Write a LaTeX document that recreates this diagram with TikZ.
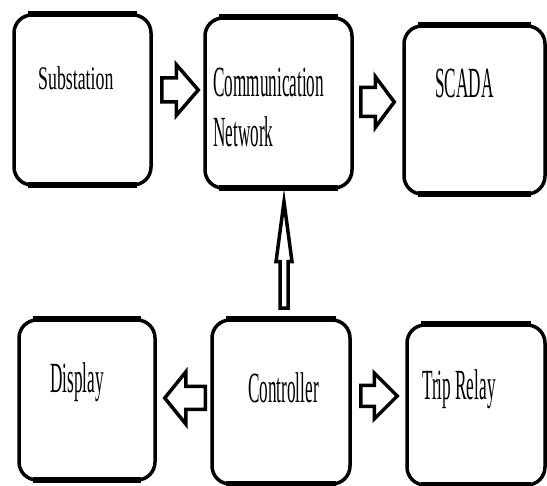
\documentclass[tikz,border=0pt]{standalone}
\usepackage{fontspec}
\usepackage{tikz}
\usetikzlibrary{positioning,calc}
\newfontfamily\blockfont[FakeStretch=0.40]{Liberation Serif}
\newfontfamily\substfont[FakeStretch=0.54]{Liberation Serif}

\tikzset{
  block/.style={draw, line width=3.5pt, rounded corners=18pt, fill=white},
  lbl/.style={inner sep=0pt, anchor=base west, align=left, font=\blockfont\fontsize{43}{50}\selectfont},
  fat/.style n args={3}{draw, line width=3.5pt, fill=white, line join=miter,
    to path={let \p1=(\tikztostart), \p2=(\tikztotarget),
      \n1={atan2(\y2-\y1,\x2-\x1)}, \n2={veclen(\x2-\x1,\y2-\y1)} in
      ([shift={(\p1)},rotate=\n1]0,#1) -- ([shift={(\p1)},rotate=\n1]{\n2-#3},#1)
      -- ([shift={(\p1)},rotate=\n1]{\n2-#3},#2) -- ([shift={(\p1)},rotate=\n1]\n2,0)
      -- ([shift={(\p1)},rotate=\n1]{\n2-#3},-#2) -- ([shift={(\p1)},rotate=\n1]{\n2-#3},-#1)
      -- ([shift={(\p1)},rotate=\n1]0,-#1) -- cycle}}
}

\begin{document}
\begin{tikzpicture}[x=1pt,y=-1pt]
\path[use as bounding box, fill=white] (0,0) rectangle (547,486);
% blocks
\node[block, minimum width=137pt, minimum height=170pt] (sub) at (82.5,100) {};
\node[block, minimum width=147pt, minimum height=170pt] (comm) at (278.5,103) {};
\node[block, minimum width=141pt, minimum height=168pt] (scada) at (474.5,110) {};
\node[block, minimum width=136pt, minimum height=160pt] (disp) at (87,400) {};
\node[block, minimum width=138pt, minimum height=164pt] (ctrl) at (281,402) {};
\node[block, minimum width=138pt, minimum height=160pt] (trip) at (476,405) {};
\foreach \b in {sub,comm,scada,disp,ctrl,trip}{
  \draw[line width=6pt] ([xshift=16pt,yshift=-1.25pt]\b.north west) -- ([xshift=-16pt,yshift=-1.25pt]\b.north east);
  \draw[line width=6pt] ([xshift=16pt,yshift=1.25pt]\b.south west) -- ([xshift=-16pt,yshift=1.25pt]\b.south east);
}
% arrows
\draw[fat={12}{25.5}{22}] ($(sub.east)+(9,-10)$) to ($(sub.east -| comm.west)+(-5,-10)$);
\draw[fat={14.5}{25.5}{19}] ($(comm.east)+(7,-1)$) to ($(comm.east -| scada.west)+(-8,-1)$);
\draw[fat={4}{8}{60}] ($(ctrl.north)+(3,-10)$) to ($(comm.south -| ctrl.north)+(3,12)$);
\draw[fat={11.5}{26}{21}] ($(ctrl.west)+(-5,-4)$) to ($(ctrl.west -| disp.east)+(8,-4)$);
\draw[fat={10.5}{23}{23}] ($(ctrl.east)+(9,-6)$) to ($(ctrl.east -| trip.west)+(-8,-6)$);
% labels
\node[lbl, font=\substfont\fontsize{33}{40}\selectfont] (subtxt) at (38,90) {Substation};
\node[lbl] (commtxt) at (213,147) {Communication\\Network};
\node[lbl] (scadatxt) at (435,98) {SCADA};
\node[lbl] (disptxt) at (50,393) {Display};
\node[lbl] (ctrltxt) at (248,403) {Controller};
\node[lbl] (triptxt) at (422,400) {Trip Relay};
\end{tikzpicture}
\end{document}
